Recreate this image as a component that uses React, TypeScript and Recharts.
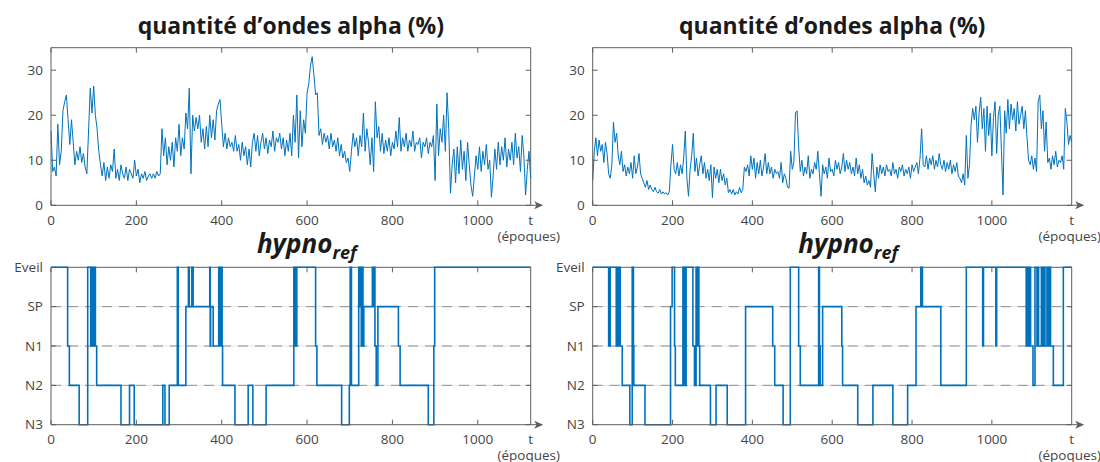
import React from 'react';
import { LineChart, Line, XAxis, YAxis, ReferenceLine } from 'recharts';

const W = 1100;
const H = 462;
const BLUE = '#0072BD';
const AXIS = '#5e5e5e';
const LABEL = '#454545';
const FONT = '"Open Sans", "Noto Sans", "DejaVu Sans", sans-serif';
const TICK_FS = 13.5;
const TICK_LEN = 5;
const X_LABEL_GAP = 10;
const Y_LABEL_GAP = 8;
const AXIS_BAND = 30;

// ---------- data ----------
const EPOCH_STEP = 4; // one value every 4 epochs

const ALPHA_LEFT = [
  16.5, 7.5, 8.5, 6.5, 18, 9, 12, 21, 23, 24.5,
  19, 13.5, 19, 14, 9, 12, 10, 13, 9.5, 11.5,
  8.5, 7, 16.5, 26, 20.5, 26.5, 20, 17, 12, 9,
  6.5, 9.5, 5.5, 8.5, 6, 9, 7.5, 12.5, 6, 8,
  5.5, 9, 7, 6, 8.5, 5.5, 8, 7, 6, 10,
  6.5, 8, 5, 7, 6, 7.5, 5.5, 6.5, 7, 6,
  7, 6, 7.5, 6.5, 7, 17, 11, 15, 9, 13,
  10, 14, 8.5, 15, 12, 18, 11, 15, 12.5, 20.5,
  17, 26, 7, 20, 16.5, 19.5, 17, 20, 14, 17,
  12.5, 17.5, 13, 20, 15, 19, 14.5, 21, 22.5, 23.5,
  18, 13, 16, 12.5, 15, 13, 14, 12, 15.5, 12,
  13.5, 10, 14, 11, 13, 9, 12.5, 8.5, 14, 16,
  12, 15.5, 11, 14, 16, 12.5, 15, 11.5, 14.5, 13,
  16.5, 12, 15, 14, 16, 12.5, 15, 11, 14.5, 12,
  16, 11, 20, 14, 24.5, 10.5, 21, 13, 19, 16,
  25, 27, 31, 33, 29, 24.5, 25, 15.5, 17, 13.5,
  16, 14, 15.5, 12.5, 16, 13, 14.5, 12, 15, 11,
  13.5, 10.5, 12, 9.5, 10.5, 7.5, 12, 16, 13, 15,
  11, 15.5, 13, 20.5, 12, 17, 14, 9, 15, 7.5,
  23, 15, 17.5, 12, 16, 11.5, 14.5, 12, 15, 11,
  14, 12.5, 16.5, 13, 19.5, 12, 15, 13, 16, 12,
  14.5, 13, 16.5, 12, 14, 13.5, 15, 10.5, 14, 13,
  15, 11.5, 14, 13, 15.5, 5.5, 22.5, 11, 17, 14,
  20, 12, 25, 17, 2.7, 9, 12.5, 5, 13, 7,
  14.5, 8, 12, 5.5, 14, 9, 4.5, 2, 6.5, 11,
  8, 13, 7.5, 12, 9, 13.5, 8, 10, 1.8, 6.5,
  12.5, 8, 14, 9, 13, 10, 15, 8.5, 12.5, 10,
  14, 9, 16, 10.5, 13, 7.5, 15.5, 11, 2.3, 8,
  12, 6,
];

const ALPHA_RIGHT = [
  5.5, 12, 15, 11, 14.5, 12, 13.5, 9.5, 14, 11.5,
  7, 6, 9, 18.5, 14, 16, 11, 9, 12, 7.5,
  9, 6.5, 8.5, 7, 9.5, 6, 11, 7, 8.5, 11.5,
  7, 6, 5, 4, 5.5, 3.5, 4.5, 3.5, 3, 4,
  3, 2.7, 3.5, 2.5, 3, 2.5, 2.8, 2.3, 3, 9,
  13.5, 8, 7, 9.5, 6.5, 9, 7, 10.5, 16.5, 6,
  2, 8, 11, 16, 7.5, 10.5, 6.5, 9, 11, 7,
  9.5, 6, 8, 5.5, 9, 1.7, 8.5, 6, 8, 5,
  8, 5.5, 7, 4.5, 6, 2.8, 3.5, 2.5, 3.5, 2.3,
  3, 2.5, 4, 2.8, 3.5, 8.5, 7.5, 9, 6.5, 11,
  8, 10.5, 6, 9.5, 7, 10, 6.5, 8.5, 11.5, 7,
  9.5, 7, 8.5, 6, 8, 7, 7.5, 6, 9.5, 5,
  7, 6, 4, 3.8, 12, 8, 9.5, 20.5, 21, 13,
  7.5, 10, 6.5, 8.5, 7, 11, 6, 8, 7, 9.5,
  8, 12, 7, 2, 9, 7, 8.5, 6, 10.5, 7.5,
  8, 6.5, 10, 8, 9.5, 7, 8.5, 11.5, 7.5, 10,
  8, 9.5, 7, 8.5, 6.5, 10.5, 7, 9, 6, 8,
  5, 6.5, 4.5, 5.5, 4, 11.5, 7, 3, 8.5, 6,
  9, 7, 8.5, 6.5, 9, 7.5, 8, 6.5, 9.5, 7,
  8, 6, 8.5, 7.5, 9, 6.5, 8, 7, 8.5, 6,
  9, 7.5, 8.5, 9.5, 7, 10.5, 17, 9, 8.5, 11,
  8, 10.5, 9, 11, 8, 10, 8.5, 11.5, 9, 8,
  10, 7.5, 9.5, 8, 10, 7, 9, 7.5, 9.5, 6.5,
  6, 5, 7, 4.5, 15.5, 6, 9, 18, 21.5, 19,
  22, 14, 20.5, 24, 17, 21.5, 12, 22, 15.5, 20.5,
  11, 19.5, 23, 11.5, 20, 22, 12, 2.3, 21, 16,
  23.5, 17, 22.5, 19, 21.5, 16.5, 23, 18, 20, 22,
  17, 21, 15, 10, 9, 11, 8, 10.5, 7.5, 23,
  24.5, 17, 21, 12, 18.5, 9.5, 10.5, 8, 11, 9,
  12, 8.5, 10, 9.5, 11, 8, 21.5, 18.5, 13.5, 15.5,
  14,
];

// hypnogram: epoch where each stage starts (stage index: 0=N3 ... 4=Eveil)
const HYPNO_LEFT_EPOCHS = [
  0, 39, 43, 66, 86, 93, 95, 97, 99, 101,
  102, 104, 107, 164, 184, 195, 262, 267, 277, 296,
  298, 316, 322, 324, 330, 333, 372, 373, 374, 380,
  393, 395, 396, 399, 400, 401, 402, 431, 462, 473,
  504, 569, 572, 573, 575, 576, 620, 623, 681, 699,
  701, 704, 721, 723, 725, 727, 729, 731, 733, 753,
  755, 757, 759, 762, 766, 814, 818, 884, 897, 899,
];
const HYPNO_LEFT_STAGES = [
  4, 2, 1, 0, 4, 2, 4, 2, 4, 2,
  4, 2, 1, 0, 1, 0, 1, 0, 1, 4,
  1, 3, 4, 3, 4, 3, 4, 2, 3, 2,
  4, 2, 4, 2, 4, 2, 1, 0, 1, 0,
  1, 4, 2, 4, 2, 4, 2, 1, 0, 1,
  4, 1, 4, 3, 4, 2, 4, 2, 3, 4,
  3, 4, 2, 1, 3, 2, 1, 0, 2, 4,
];
const HYPNO_RIGHT_EPOCHS = [
  0, 40, 44, 59, 63, 65, 66, 67, 68, 69,
  74, 93, 99, 102, 103, 131, 195, 199, 205, 207,
  226, 228, 230, 232, 234, 251, 255, 259, 261, 263,
  266, 268, 295, 309, 337, 383, 451, 456, 477, 495,
  516, 520, 566, 568, 570, 576, 624, 626, 664, 702,
  752, 789, 810, 822, 826, 872, 936, 977, 979, 1010,
  1012, 1086, 1088, 1090, 1092, 1095, 1096, 1097, 1103, 1108,
  1113, 1114, 1117, 1124, 1127, 1131, 1133, 1138, 1140, 1142,
  1144, 1146, 1147, 1154, 1179,
];
const HYPNO_RIGHT_STAGES = [
  4, 2, 4, 2, 4, 2, 4, 2, 4, 2,
  1, 0, 4, 2, 1, 0, 3, 4, 2, 1,
  4, 1, 4, 1, 4, 2, 1, 4, 2, 4,
  2, 1, 0, 1, 0, 3, 2, 1, 0, 4,
  2, 1, 4, 2, 1, 3, 2, 1, 0, 1,
  0, 1, 3, 4, 3, 1, 4, 2, 4, 2,
  4, 2, 4, 2, 4, 2, 4, 2, 1, 4,
  2, 4, 2, 4, 2, 4, 2, 4, 2, 4,
  2, 4, 2, 1, 4,
];

const EPOCH_TICKS = [0, 200, 400, 600, 800, 1000];
const ALPHA_TICKS = [0, 10, 20, 30];
const STAGE_TICKS = [0, 1, 2, 3, 4];
const STAGE_LABELS = ['N3', 'N2', 'N1', 'SP', 'Eveil'];
const GRID_STAGES = [1, 2, 3];
const LEFT_EPOCHS = 1124;
const RIGHT_EPOCHS = 1200;
const ALPHA_MAX = 35;
const STAGE_MAX = 4;

const TITLE_ALPHA = 'quantité d’ondes alpha (%)';
const TITLE_HYPNO = 'hypno';
const TITLE_HYPNO_SUB = 'ref';
const X_NAME = 't';
const X_UNIT = '(époques)';

// ---------- layout ----------
type Box = { left: number; right: number; top: number; bottom: number };
const COL_LEFT = { left: 51, right: 530.7 };
const COL_RIGHT = { left: 592.7, right: 1071.7 };
const ROW_TOP = { top: 47.7, bottom: 205.3 };
const ROW_BOTTOM = { top: 267.3, bottom: 424.7 };

const alphaData = (vals: number[]) => vals.map((v, i) => ({ t: i * EPOCH_STEP, v }));
const hypnoData = (epochs: number[], stages: number[], end: number) => [
  ...epochs.map((t, i) => ({ t, v: stages[i] })),
  { t: end, v: stages[stages.length - 1] },
];

const textStyle = { fontFamily: FONT, fontSize: TICK_FS, fill: LABEL };

type PanelProps = {
  box: Box;
  xMax: number;
  yMax: number;
  data: { t: number; v: number }[];
  yTicks: number[];
  fmtY: (v: number) => string;
  hypno?: boolean;
};

function Panel({ box, xMax, yMax, data, yTicks, fmtY, hypno }: PanelProps) {
  const margin = {
    left: box.left - AXIS_BAND,
    right: W - box.right,
    top: box.top,
    bottom: H - box.bottom - AXIS_BAND,
  };

  const XTick = (p: any) => {
    const v = p.payload.value;
    const x = p.x;
    const ya = box.bottom;
    if (v === xMax) {
      return (
        <g>
          <line x1={x} y1={ya} x2={x + 8} y2={ya} stroke={AXIS} strokeWidth={1} />
          <path
            d={`M${x + 12.5},${ya}L${x + 3.5},${ya - 4}L${x + 5.8},${ya}L${x + 3.5},${ya + 4}Z`}
            fill={AXIS}
          />
          <text x={x} y={ya + X_LABEL_GAP} dy="0.71em" textAnchor="middle" style={textStyle}>
            {X_NAME}
          </text>
          <text x={x - 2} y={ya + X_LABEL_GAP + 16} dy="0.71em" textAnchor="middle" style={textStyle}>
            {X_UNIT}
          </text>
        </g>
      );
    }
    return (
      <g>
        <line x1={x} y1={ya} x2={x} y2={ya - TICK_LEN} stroke={AXIS} />
        <line x1={x} y1={box.top} x2={x} y2={box.top + TICK_LEN} stroke={AXIS} />
        <text x={x} y={ya + X_LABEL_GAP} dy="0.71em" textAnchor="middle" style={textStyle}>
          {v}
        </text>
      </g>
    );
  };

  const YTick = (p: any) => {
    const v = p.payload.value;
    const y = p.y;
    return (
      <g>
        <line x1={box.left} y1={y} x2={box.left + TICK_LEN} y2={y} stroke={AXIS} />
        <line x1={box.right} y1={y} x2={box.right - TICK_LEN} y2={y} stroke={AXIS} />
        <text x={box.left - Y_LABEL_GAP} y={y} dy="0.355em" textAnchor="end" style={textStyle}>
          {fmtY(v)}
        </text>
      </g>
    );
  };

  return (
    <div style={{ position: 'absolute', left: 0, top: 0, width: W, height: H }}>
      <LineChart width={W} height={H} data={data} margin={margin}>
        {hypno &&
          GRID_STAGES.map((s) => (
            <ReferenceLine key={`g${s}`} y={s} stroke="#e6e6e6" strokeWidth={1} ifOverflow="visible" />
          ))}
        {hypno &&
          GRID_STAGES.map((s) => (
            <ReferenceLine
              key={`d${s}`}
              y={s}
              stroke="#8f8f8f"
              strokeWidth={1}
              strokeDasharray="10 7"
              ifOverflow="visible"
            />
          ))}
        <ReferenceLine y={yMax} stroke={AXIS} strokeWidth={1} ifOverflow="visible" />
        <ReferenceLine x={xMax} stroke={AXIS} strokeWidth={1} ifOverflow="visible" />
        <XAxis
          type="number"
          dataKey="t"
          domain={[0, xMax]}
          ticks={[...EPOCH_TICKS, xMax]}
          interval={0}
          height={AXIS_BAND}
          tickLine={false}
          tickSize={0}
          tickMargin={X_LABEL_GAP}
          axisLine={{ stroke: AXIS, strokeWidth: 1 }}
          tick={XTick}
        />
        <YAxis
          type="number"
          domain={[0, yMax]}
          ticks={yTicks}
          interval={0}
          width={AXIS_BAND}
          tickLine={false}
          tickSize={0}
          tickMargin={Y_LABEL_GAP}
          axisLine={{ stroke: AXIS, strokeWidth: 1 }}
          tick={YTick}
        />
        <Line
          type={hypno ? 'stepAfter' : 'linear'}
          dataKey="v"
          stroke={BLUE}
          strokeWidth={hypno ? 1.6 : 1}
          dot={false}
          activeDot={false}
          isAnimationActive={false}
        />
      </LineChart>
    </div>
  );
}

const fmtNum = (v: number) => String(v);
const fmtStage = (v: number) => STAGE_LABELS[v] ?? '';

export default function App() {
  const boxes = {
    tl: { ...COL_LEFT, ...ROW_TOP },
    tr: { ...COL_RIGHT, ...ROW_TOP },
    bl: { ...COL_LEFT, ...ROW_BOTTOM },
    br: { ...COL_RIGHT, ...ROW_BOTTOM },
  };
  const cxL = (COL_LEFT.left + COL_LEFT.right) / 2;
  const cxR = (COL_RIGHT.left + COL_RIGHT.right) / 2;
  const titleStyle = { fontFamily: FONT, fill: '#1a1a1a' };
  return (
    <div style={{ position: 'absolute', left: 0, top: 0, width: W, height: H, background: '#fff', overflow: 'hidden' }}>
      <Panel box={boxes.tl} xMax={LEFT_EPOCHS} yMax={ALPHA_MAX} data={alphaData(ALPHA_LEFT)} yTicks={ALPHA_TICKS} fmtY={fmtNum} />
      <Panel box={boxes.tr} xMax={RIGHT_EPOCHS} yMax={ALPHA_MAX} data={alphaData(ALPHA_RIGHT)} yTicks={ALPHA_TICKS} fmtY={fmtNum} />
      <Panel
        box={boxes.bl}
        xMax={LEFT_EPOCHS}
        yMax={STAGE_MAX}
        data={hypnoData(HYPNO_LEFT_EPOCHS, HYPNO_LEFT_STAGES, LEFT_EPOCHS)}
        yTicks={STAGE_TICKS}
        fmtY={fmtStage}
        hypno
      />
      <Panel
        box={boxes.br}
        xMax={RIGHT_EPOCHS}
        yMax={STAGE_MAX}
        data={hypnoData(HYPNO_RIGHT_EPOCHS, HYPNO_RIGHT_STAGES, RIGHT_EPOCHS)}
        yTicks={STAGE_TICKS}
        fmtY={fmtStage}
        hypno
      />
      <svg width={W} height={H} style={{ position: 'absolute', left: 0, top: 0, pointerEvents: 'none' }}>
        {[cxL, cxR].map((cx, i) => (
          <text key={`ta${i}`} x={cx} y={34} textAnchor="middle" fontSize={23} fontWeight={700} style={titleStyle}>
            {TITLE_ALPHA}
          </text>
        ))}
        {[cxL, cxR].map((cx, i) => (
          <text key={`th${i}`} x={cx + 16} y={253} textAnchor="middle" fontSize={26} fontWeight={700} fontStyle="italic" style={titleStyle}>
            {TITLE_HYPNO}
            <tspan fontSize={18} dy={6}>
              {TITLE_HYPNO_SUB}
            </tspan>
          </text>
        ))}
      </svg>
    </div>
  );
}
